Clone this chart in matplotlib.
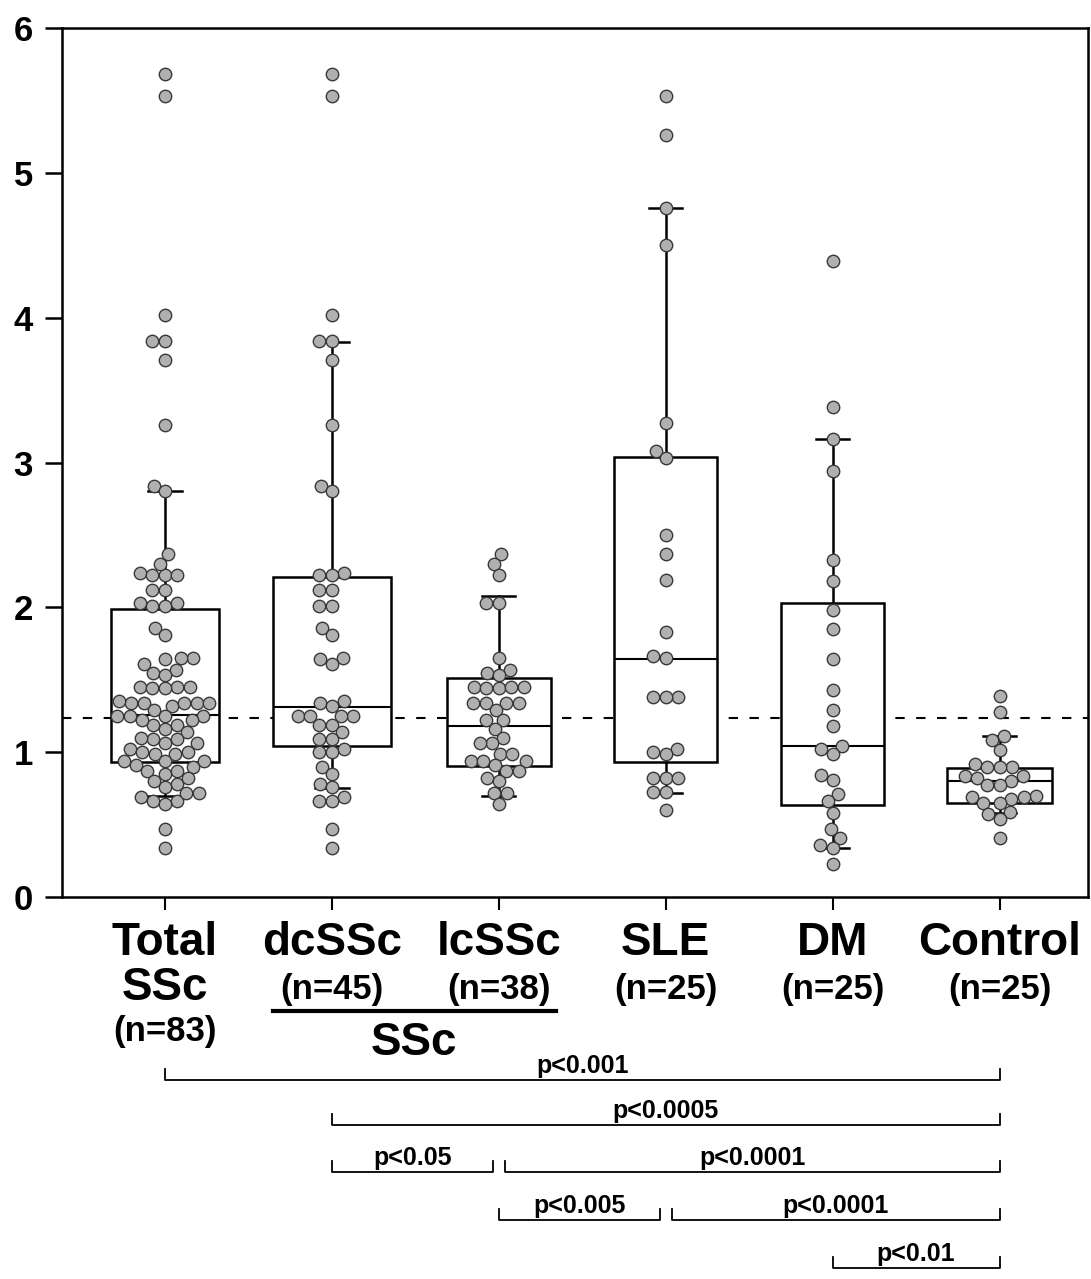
import numpy as np
import matplotlib
matplotlib.use('Agg')
import matplotlib.pyplot as plt
from matplotlib.lines import Line2D
from matplotlib.transforms import blended_transform_factory

plt.rcParams['font.family'] = ['Liberation Sans', 'DejaVu Sans']
plt.rcParams['font.weight'] = 'bold'

# ---- data ----
names = ['Total\nSSc', 'dcSSc', 'lcSSc', 'SLE', 'DM', 'Control']
n_labels = ['(n=83)', '(n=45)', '(n=38)', '(n=25)', '(n=25)', '(n=25)']

dcssc = [5.68, 5.53, 4.02, 3.84, 3.84, 3.71, 3.26, 2.84, 2.80,
         2.24, 2.22, 2.22, 2.12, 2.12, 2.01, 2.01, 1.86, 1.81,
         1.64, 1.65, 1.61, 1.34, 1.32, 1.35, 1.25, 1.25, 1.25, 1.25,
         1.19, 1.19, 1.14, 1.09, 1.09, 1.02, 1.00, 1.00, 0.90, 0.85,
         0.78, 0.76, 0.69, 0.66, 0.66, 0.47, 0.34]
lcssc = [2.37, 2.30, 2.22, 2.03, 2.03, 1.65, 1.57, 1.55, 1.53,
         1.45, 1.44, 1.45, 1.45, 1.44, 1.34, 1.34, 1.34, 1.34, 1.29,
         1.22, 1.22, 1.16, 1.10, 1.06, 1.06, 0.99, 0.99, 0.94, 0.94, 0.94,
         0.91, 0.87, 0.87, 0.82, 0.80, 0.72, 0.72, 0.64]
total = dcssc + lcssc
sle = [5.53, 5.26, 4.76, 4.50, 3.27, 3.08, 3.03, 2.50, 2.37, 2.19,
       1.83, 1.665, 1.65, 1.38, 1.38, 1.38, 1.02, 1.00, 0.99,
       0.82, 0.82, 0.82, 0.725, 0.725, 0.60]
dm = [4.39, 3.38, 3.16, 2.94, 2.33, 2.18, 1.98, 1.85, 1.64, 1.43,
      1.29, 1.18, 1.045, 1.02, 0.99, 0.84, 0.81, 0.71, 0.66, 0.58,
      0.47, 0.41, 0.36, 0.34, 0.23]
control = [1.39, 1.275, 1.11, 1.085, 1.015, 0.92, 0.90, 0.90, 0.895,
           0.835, 0.835, 0.82, 0.80, 0.77, 0.77, 0.70, 0.69, 0.69, 0.68,
           0.65, 0.65, 0.585, 0.57, 0.54, 0.41]
values = [total, dcssc, lcssc, sle, dm, control]

# box statistics as drawn
medians = [1.26, 1.31, 1.18, 1.64, 1.04, 0.80]
q1 = [0.93, 1.04, 0.905, 0.93, 0.635, 0.65]
q3 = [1.99, 2.21, 1.515, 3.04, 2.03, 0.89]
whislo = [0.70, 0.755, 0.70, 0.72, 0.34, 0.58]
whishi = [2.80, 3.83, 2.08, 4.76, 3.16, 1.11]
cutoff = 1.235

# significance brackets: (left group, right group, row, label)
comparisons = [(0, 5, 0, 'p<0.001'),
               (1, 5, 1, 'p<0.0005'),
               (1, 2, 2, 'p<0.05'),
               (2, 5, 2, 'p<0.0001'),
               (2, 3, 3, 'p<0.005'),
               (3, 5, 3, 'p<0.0001'),
               (4, 5, 4, 'p<0.01')]

W, H = 1091, 1279
fig = plt.figure(figsize=(W / 100, H / 100), dpi=100)
ax = fig.add_axes([62 / W, 1 - 897 / H, 1026 / W, 869 / H])
ax.set_xlim(0.383, 6.53)
ax.set_ylim(0, 6)

pos = np.arange(1, len(names) + 1)
box_w = [0.65, 0.71, 0.62, 0.62, 0.62, 0.63]

ax.axhline(cutoff, color='black', lw=1.5, ls=(0, (4.5, 5.5)), zorder=1)

stats = []
for i in range(len(names)):
    stats.append(dict(med=medians[i], q1=q1[i], q3=q3[i],
                      whislo=whislo[i], whishi=whishi[i]))
ax.bxp(stats, positions=pos, widths=box_w, capwidths=0.2,
       patch_artist=True, showfliers=False, zorder=2,
       boxprops=dict(facecolor='white', edgecolor='black', linewidth=1.8),
       medianprops=dict(color='black', linewidth=1.5),
       whiskerprops=dict(color='black', linewidth=1.8),
       capprops=dict(color='black', linewidth=1.8))


def swarm_offsets(ys, d):
    # simple beeswarm in pixel space, closest free spot to the centre
    order = np.argsort(ys)
    xs = np.zeros(len(ys))
    placed = []
    for i in order:
        y = ys[i]
        near = [(px, py) for px, py in placed if abs(py - y) < d]
        cands = [0.0]
        for px, py in near:
            dx = np.sqrt(d * d - (py - y) ** 2)
            cands += [px - dx, px + dx]
        for c in sorted(cands, key=abs):
            if all((c - px) ** 2 + (y - py) ** 2 >= d * d - 1e-6 for px, py in near):
                xs[i] = c
                break
        placed.append((xs[i], y))
    return xs


px_per_x = ax.transData.transform([[1, 0]])[0, 0] - ax.transData.transform([[0, 0]])[0, 0]
for p, vals in zip(pos, values):
    vals = np.array(vals)
    ypix = ax.transData.transform(np.column_stack([np.full(len(vals), p), vals]))[:, 1]
    off = swarm_offsets(ypix, 12.5)
    ax.scatter(p + off / px_per_x, vals, s=80, facecolor='#b0b0b0',
               edgecolor='#383838', linewidth=1.0, zorder=3, clip_on=False)

for s in ax.spines.values():
    s.set_linewidth(1.8)
ax.set_yticks(range(7))
ax.tick_params(axis='y', length=12, width=1.8, pad=9, labelsize=25)
ax.set_xticks(pos)
ax.tick_params(axis='x', length=9, width=1.5, labelbottom=False)

# ---- group labels below the axis ----
trans = blended_transform_factory(ax.transData, fig.transFigure)


def fy(py):
    return 1 - py / H


for p, name, nl in zip(pos, names, n_labels):
    lines = name.split('\n')
    for k, line in enumerate(lines):
        ax.text(p, fy(955 + 45 * k), line, transform=trans, ha='center',
                va='baseline', fontsize=33, fontweight='bold')
    ny = 999 if len(lines) == 1 else 1041
    ax.text(p, fy(ny), nl, transform=trans, ha='center', va='baseline',
            fontsize=25, fontweight='bold')

# SSc subgroup bar
ax.add_artist(Line2D([1.65, 3.34], [fy(1011), fy(1011)], transform=trans,
                     color='black', lw=3, clip_on=False))
ax.text(2.49, fy(1055), 'SSc', transform=trans, ha='center', va='baseline',
        fontsize=33, fontweight='bold')

# ---- significance brackets ----
row_y = [1080, 1125, 1172, 1220, 1268]
gap = 0.035
for a, b, row, lab in comparisons:
    x0, x1 = pos[a], pos[b]
    # leave a small gap where two brackets meet on the same row
    for a2, b2, r2, _ in comparisons:
        if r2 == row and b2 == a:
            x0 = pos[a] + gap
        if r2 == row and a2 == b:
            x1 = pos[b] - gap
    y = fy(row_y[row])
    yt = fy(row_y[row] - 11)
    ax.add_artist(Line2D([x0, x0, x1, x1], [yt, y, y, yt], transform=trans,
                         color='black', lw=1.3, clip_on=False))
    ax.text((x0 + x1) / 2, fy(row_y[row] - 7), lab, transform=trans,
            ha='center', va='baseline', fontsize=18, fontweight='bold')

fig.savefig('out.png', dpi=100)
